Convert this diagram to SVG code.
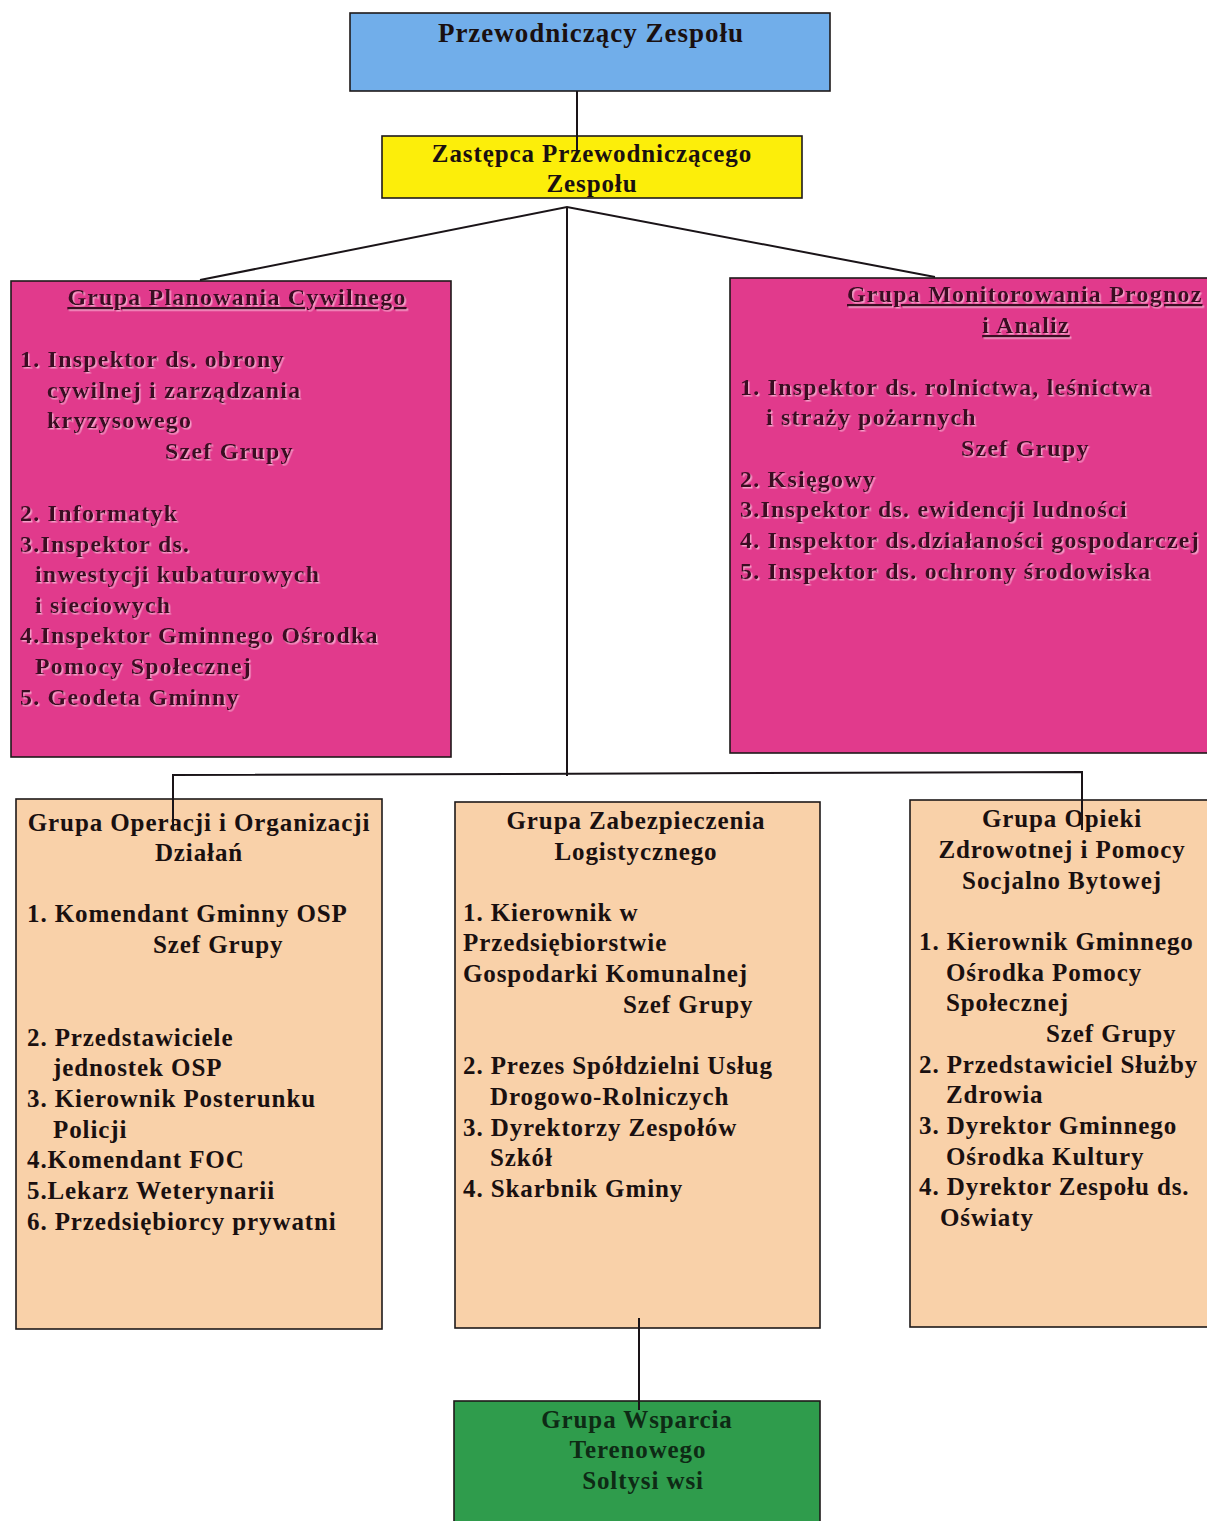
<svg xmlns="http://www.w3.org/2000/svg" width="1207" height="1521" viewBox="0 0 1207 1521">
<defs>
<style>
.box{stroke:#1e1a1a;stroke-width:1.6}
.blue{fill:#71aeea}
.yellow{fill:#fcee0a}
.pink{fill:#e13a8c}
.peach{fill:#f9d1a9}
.green{fill:#2f9c4c}
.t{font-family:"Liberation Serif","Times New Roman",serif;font-weight:bold;font-size:25px;letter-spacing:0.9px;fill:#1a1010}
.pt{font-family:"Liberation Serif","Times New Roman",serif;font-weight:bold;font-size:24px;letter-spacing:1.2px;fill:#3a0b22;filter:url(#emb)}
.gt{font-family:"Liberation Serif","Times New Roman",serif;font-weight:bold;font-size:25px;letter-spacing:0.9px;fill:#0e2a15}
.c{text-anchor:middle}
.u{text-decoration:underline}
.ln{stroke:#1a1418;stroke-width:2;fill:none}
</style>
<filter id="emb" x="-5%" y="-20%" width="110%" height="140%">
<feDropShadow dx="1.5" dy="1.5" stdDeviation="0.6" flood-color="#f7a9cf" flood-opacity="0.9"/>
</filter>
</defs>
<rect width="1207" height="1521" fill="#ffffff"/>

<g id="n-przewodniczacy">
<rect class="box blue" x="350" y="13" width="480" height="78"/>
<text class="t c" x="591" y="42" style="font-size:27px;letter-spacing:1px">Przewodniczący Zespołu</text>
</g>

<g id="n-zastepca">
<rect class="box yellow" x="382" y="136" width="420" height="62"/>
<text class="t c" x="592" y="162">Zastępca Przewodniczącego</text>
<text class="t c" x="592" y="192">Zespołu</text>
</g>

<g id="n-planowania">
<rect class="box pink" x="11" y="281" width="440" height="476"/>
<text class="pt c u" x="237" y="305">Grupa Planowania Cywilnego</text>
<text class="pt" x="20" y="367">1. Inspektor ds. obrony</text>
<text class="pt" x="47" y="398">cywilnej i zarządzania</text>
<text class="pt" x="47" y="428">kryzysowego</text>
<text class="pt" x="165" y="459">Szef Grupy</text>
<text class="pt" x="20" y="521">2. Informatyk</text>
<text class="pt" x="20" y="552">3.Inspektor ds.</text>
<text class="pt" x="35" y="582">inwestycji kubaturowych</text>
<text class="pt" x="35" y="613">i sieciowych</text>
<text class="pt" x="20" y="643">4.Inspektor Gminnego Ośrodka</text>
<text class="pt" x="35" y="674">Pomocy Społecznej</text>
<text class="pt" x="20" y="705">5. Geodeta Gminny</text>
</g>

<g id="n-monitorowania">
<rect class="box pink" x="730" y="278" width="490" height="475"/>
<text class="pt u" x="847" y="302">Grupa Monitorowania Prognoz</text>
<text class="pt c u" x="1026" y="333">i Analiz</text>
<text class="pt" x="740" y="395">1. Inspektor ds. rolnictwa, leśnictwa</text>
<text class="pt" x="766" y="425">i straży pożarnych</text>
<text class="pt" x="961" y="456">Szef Grupy</text>
<text class="pt" x="740" y="487">2. Księgowy</text>
<text class="pt" x="740" y="517">3.Inspektor ds. ewidencji ludności</text>
<text class="pt" x="740" y="548">4. Inspektor ds.działaności gospodarczej</text>
<text class="pt" x="740" y="579">5. Inspektor ds. ochrony środowiska</text>
</g>

<g id="n-operacji">
<rect class="box peach" x="16" y="799" width="366" height="530"/>
<text class="t c" x="199" y="831">Grupa Operacji i Organizacji</text>
<text class="t c" x="199" y="861">Działań</text>
<text class="t" x="27" y="922">1. Komendant Gminny OSP</text>
<text class="t" x="153" y="953">Szef Grupy</text>
<text class="t" x="27" y="1046">2. Przedstawiciele</text>
<text class="t" x="53" y="1076">jednostek OSP</text>
<text class="t" x="27" y="1107">3. Kierownik Posterunku</text>
<text class="t" x="53" y="1138">Policji</text>
<text class="t" x="27" y="1168">4.Komendant FOC</text>
<text class="t" x="27" y="1199">5.Lekarz Weterynarii</text>
<text class="t" x="27" y="1230">6. Przedsiębiorcy prywatni</text>
</g>

<g id="n-zabezpieczenia">
<rect class="box peach" x="455" y="802" width="365" height="526"/>
<text class="t c" x="636" y="829">Grupa Zabezpieczenia</text>
<text class="t c" x="636" y="860">Logistycznego</text>
<text class="t" x="463" y="921">1. Kierownik w</text>
<text class="t" x="463" y="951">Przedsiębiorstwie</text>
<text class="t" x="463" y="982">Gospodarki Komunalnej</text>
<text class="t" x="623" y="1013">Szef Grupy</text>
<text class="t" x="463" y="1074">2. Prezes Spółdzielni Usług</text>
<text class="t" x="490" y="1105">Drogowo-Rolniczych</text>
<text class="t" x="463" y="1136">3. Dyrektorzy Zespołów</text>
<text class="t" x="490" y="1166">Szkół</text>
<text class="t" x="463" y="1197">4. Skarbnik Gminy</text>
</g>

<g id="n-opieki">
<rect class="box peach" x="910" y="800" width="310" height="527"/>
<text class="t c" x="1062" y="827">Grupa Opieki</text>
<text class="t c" x="1062" y="858">Zdrowotnej i Pomocy</text>
<text class="t c" x="1062" y="889">Socjalno Bytowej</text>
<text class="t" x="919" y="950">1. Kierownik Gminnego</text>
<text class="t" x="946" y="981">Ośrodka Pomocy</text>
<text class="t" x="946" y="1011">Społecznej</text>
<text class="t" x="1046" y="1042">Szef Grupy</text>
<text class="t" x="919" y="1073">2. Przedstawiciel Służby</text>
<text class="t" x="946" y="1103">Zdrowia</text>
<text class="t" x="919" y="1134">3. Dyrektor Gminnego</text>
<text class="t" x="946" y="1165">Ośrodka Kultury</text>
<text class="t" x="919" y="1195">4. Dyrektor Zespołu ds.</text>
<text class="t" x="940" y="1226">Oświaty</text>
</g>

<g id="n-wsparcia">
<rect class="box green" x="454" y="1401" width="366" height="130"/>
<text class="gt c" x="637" y="1428">Grupa Wsparcia</text>
<text class="gt c" x="638" y="1458">Terenowego</text>
<text class="gt c" x="643" y="1489">Soltysi wsi</text>
</g>

<g id="connectors">
<line class="ln" x1="577" y1="91" x2="577" y2="150"/>
<polyline class="ln" points="200,280 567,207 935,277"/>
<line class="ln" x1="567" y1="207" x2="567" y2="776"/>
<polyline class="ln" points="173,830 173,775 1082,772 1082,830"/>
<line class="ln" x1="639" y1="1318" x2="639" y2="1410"/>
</g>
</svg>
